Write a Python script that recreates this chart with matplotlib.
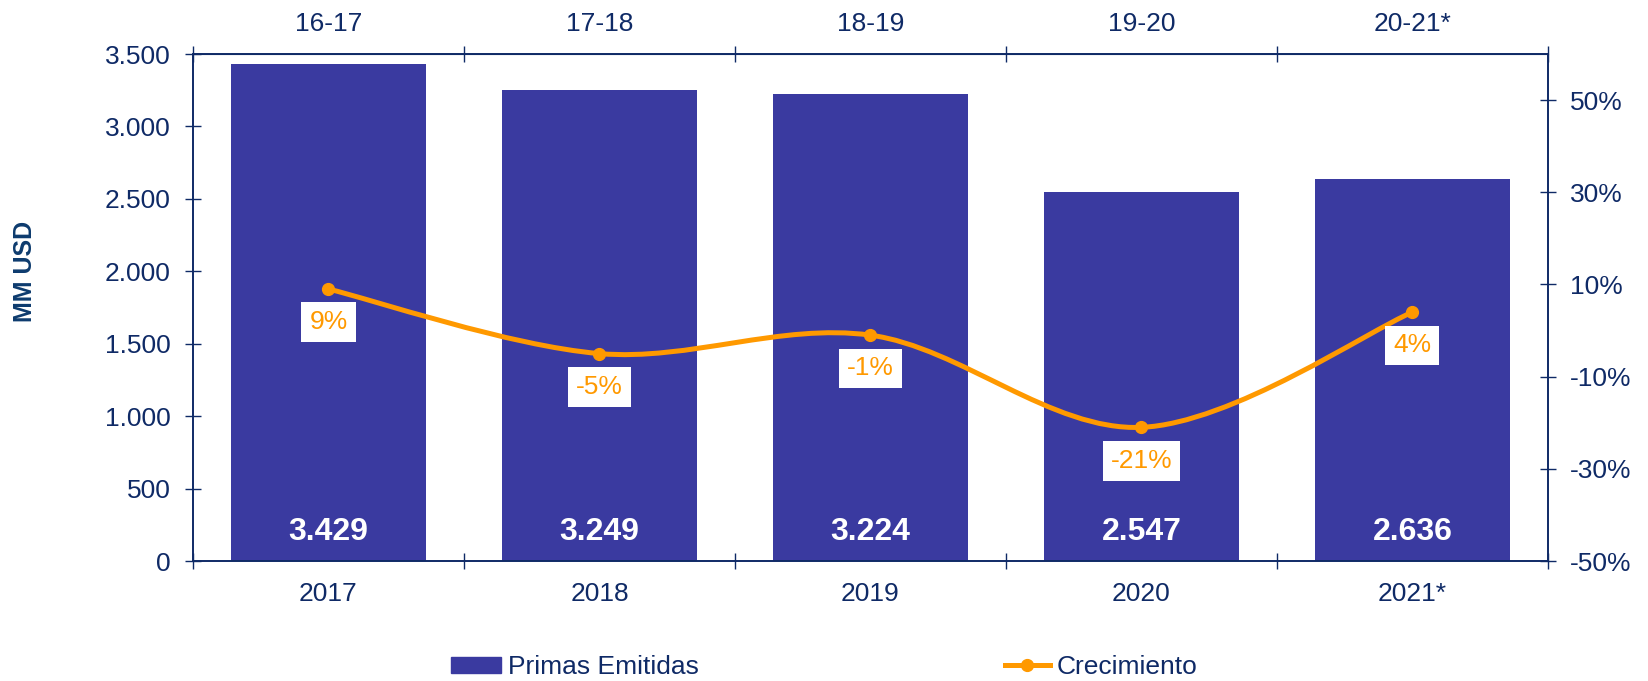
import numpy as np
import matplotlib.pyplot as plt
from matplotlib.path import Path
from matplotlib.patches import PathPatch, Patch
from matplotlib.lines import Line2D

plt.rcParams['font.family'] = ['Liberation Sans', 'DejaVu Sans']

years = ["2017", "2018", "2019", "2020", "2021*"]
periods = ["16-17", "17-18", "18-19", "19-20", "20-21*"]
primas = [3429, 3249, 3224, 2547, 2636]
crecimiento = [0.09, -0.05, -0.01, -0.21, 0.04]

navy = "#0F2A66"
bar_color = "#3A3AA0"
orange = "#FF9900"
fs = 19


def smooth_path(xs, ys):
    """Excel-like smoothed line: cubic Bezier segments with Catmull-Rom control points."""
    pts = np.column_stack([xs, ys]).astype(float)
    n = len(pts)
    verts = [pts[0]]
    codes = [Path.MOVETO]
    for i in range(n - 1):
        p0 = pts[max(i - 1, 0)]
        p1 = pts[i]
        p2 = pts[i + 1]
        p3 = pts[min(i + 2, n - 1)]
        c1 = p1 + (p2 - p0) / 6
        c2 = p2 - (p3 - p1) / 6
        verts += [c1, c2, p2]
        codes += [Path.CURVE4] * 3
    return Path(verts, codes)


fig = plt.figure(figsize=(16.48, 6.81), dpi=100)
ax = fig.add_axes([0.1171, 0.1762, 0.8222, 0.7445])
ax2 = ax.twinx()

x = np.arange(len(years))
ax.bar(x, primas, width=0.72, color=bar_color, zorder=2)
ax.set_xlim(-0.5, len(years) - 0.5)
ax.set_ylim(0, 3500)
ax.set_yticks(np.arange(0, 3501, 500))
ax.set_yticklabels([f"{v:,}".replace(",", ".") for v in range(0, 3501, 500)])

for xi, v in zip(x, primas):
    ax.text(xi, 200, f"{v:,}".replace(",", "."), ha="center", va="center",
            color="white", fontsize=23, fontweight="bold", zorder=3)

# bottom axis: ticks at boundaries, labels at centres
ax.set_xticks(np.arange(-0.5, len(years), 1.0))
ax.set_xticklabels([])
ax.set_xticks(x, minor=True)
ax.set_xticklabels(years, minor=True)
ax.tick_params(axis="x", which="major", direction="inout", length=12, width=1, color=navy)
ax.tick_params(axis="x", which="minor", length=0, pad=15, labelsize=fs, labelcolor=navy)
ax.tick_params(axis="y", direction="inout", length=12, width=1, color=navy,
               labelsize=fs, labelcolor=navy, pad=10)

# top axis with the periods
top = ax.secondary_xaxis("top")
top.set_xticks(np.arange(-0.5, len(years), 1.0))
top.set_xticklabels([])
top.set_xticks(x, minor=True)
top.set_xticklabels(periods, minor=True)
top.tick_params(axis="x", which="major", direction="inout", length=12, width=1, color=navy)
top.tick_params(axis="x", which="minor", length=0, pad=13, labelsize=fs, labelcolor=navy)
top.spines["top"].set_color(navy)

# growth line
ax2.set_ylim(-0.5, 0.6)
ax2.set_yticks([-0.5, -0.3, -0.1, 0.1, 0.3, 0.5])
ax2.set_yticklabels([f"{v:.0%}" for v in [-0.5, -0.3, -0.1, 0.1, 0.3, 0.5]])
ax2.tick_params(axis="y", direction="inout", length=12, width=1, color=navy,
                labelsize=fs, labelcolor=navy, pad=10)
ax2.add_patch(PathPatch(smooth_path(x, crecimiento), facecolor="none",
                        edgecolor=orange, lw=3.6, capstyle="round", zorder=3))
ax2.plot(x, crecimiento, ls="none", marker="o", ms=8.5, color=orange, zorder=4)
for xi, v in zip(x, crecimiento):
    ax2.annotate(f"{v:.0%}", (xi, v), xytext=(0, -24), textcoords="offset points",
                 ha="center", va="center", fontsize=fs, color=orange, zorder=5,
                 bbox=dict(boxstyle="square,pad=0.3", fc="white", ec="none"))

for a in (ax, ax2):
    for s in a.spines.values():
        s.set_color(navy)
        s.set_linewidth(1.2)

fig.text(25 / 1648, 1 - 271 / 681, "MM USD", rotation=90, ha="center", va="center",
         fontsize=18, fontweight="bold", color="#0D3B6E")

leg_kw = dict(frameon=False, fontsize=fs, labelcolor=navy, borderpad=0,
              borderaxespad=0, handletextpad=0.25, loc="center left")
fig.legend(handles=[Patch(color=bar_color, label="Primas Emitidas")],
           bbox_to_anchor=(451 / 1648, 1 - 667 / 681), handlelength=1.9,
           handleheight=0.55, **leg_kw)
fig.legend(handles=[Line2D([], [], color=orange, lw=3.6, marker="o", ms=8.5,
                           label="Crecimiento")],
           bbox_to_anchor=(1005 / 1648, 1 - 667 / 681), handlelength=1.7,
           numpoints=1, **leg_kw)

fig.savefig("out.png", dpi=100)
